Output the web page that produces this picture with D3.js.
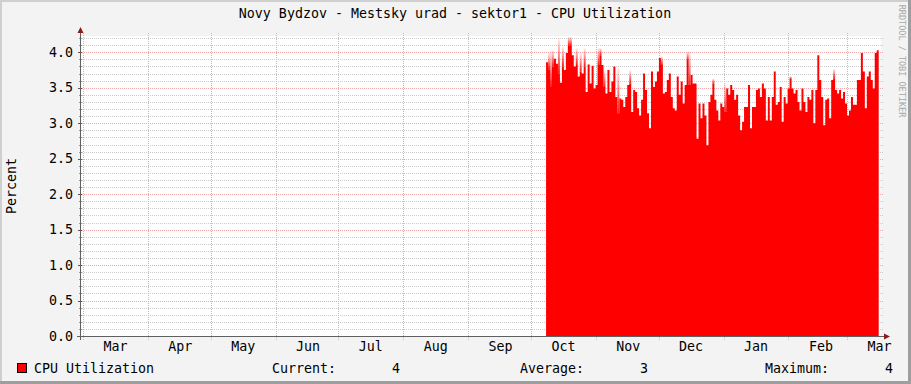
<!DOCTYPE html>
<html>
<head>
<meta charset="utf-8">
<script src="https://cdn.jsdelivr.net/npm/d3@7"></script>
<style>
    body { margin: 0; padding: 0; background: #f3f3f3; }
    svg text { font-family: "DejaVu Sans Mono", monospace; font-size: 13.3px; fill: #000; }
</style>
</head>
<body>
<div id="my_dataviz"></div>
<script>
// chart texts
var chartTitle = "Novy Bydzov - Mestsky urad - sektor1 - CPU Utilization";
var yAxisTitle = "Percent";
var seriesName = "CPU Utilization";
var yTickLabels = ["0.0", "0.5", "1.0", "1.5", "2.0", "2.5", "3.0", "3.5", "4.0"];
var monthLabels = ["Mar", "Apr", "May", "Jun", "Jul", "Aug", "Sep", "Oct", "Nov", "Dec", "Jan", "Feb", "Mar"];
var legendStats = [["Current:", "4"], ["Average:", "3"], ["Maximum:", "4"]];

// graph time window (one year back) and first sample of the series
var timeStart = new Date(Date.UTC(2010, 1, 28, 1, 0));
var timeEnd = new Date(Date.UTC(2011, 2, 17, 5, 0));
var firstSample = new Date(Date.UTC(2010, 9, 8, 5, 0));
var sampleHours = 22.7;

// CPU utilization samples (percent)
var cpuValues = [
    3.86, 3.76, 3.51, 3.80, 3.91, 3.84, 3.70, 3.57, 3.80, 3.75,
    3.99, 4.10, 4.10, 3.96, 3.80, 3.82, 3.66, 3.73, 3.70, 3.80,
    3.44, 3.82, 3.56, 3.81, 3.49, 3.54, 3.82, 3.96, 3.82, 3.51,
    3.42, 3.75, 3.44, 3.59, 3.80, 3.37, 3.14, 3.35, 3.33, 3.23,
    3.37, 3.54, 3.56, 3.16, 3.47, 3.44, 3.21, 3.11, 3.33, 3.70,
    3.47, 3.14, 2.93, 3.73, 3.51, 3.59, 3.73, 3.92, 3.82, 3.42,
    3.44, 3.61, 3.70, 3.37, 3.21, 3.18, 3.66, 3.40, 3.59, 3.28,
    3.54, 3.89, 3.54, 3.68, 3.56, 3.56, 2.78, 3.28, 3.07, 3.28,
    3.11, 2.69, 3.30, 3.40, 3.56, 3.33, 3.18, 3.04, 3.28, 3.23,
    3.16, 3.49, 3.40, 3.54, 3.47, 3.33, 3.40, 3.11, 2.90, 3.02,
    3.23, 3.23, 3.54, 2.93, 3.23, 3.23, 3.47, 3.49, 3.37, 3.56,
    3.49, 3.04, 3.37, 3.04, 3.37, 3.73, 3.26, 3.30, 3.51, 3.02,
    3.37, 3.28, 3.49, 3.63, 3.49, 3.42, 3.47, 3.30, 3.18, 3.49,
    3.30, 3.16, 3.37, 3.33, 3.47, 3.00, 3.47, 3.96, 3.61, 3.37,
    2.97, 3.33, 3.35, 3.07, 3.61, 3.63, 3.47, 3.42, 3.47, 3.35,
    3.44, 3.28, 3.11, 3.18, 3.37, 3.26, 3.26, 3.61, 3.61, 3.99,
    3.73, 3.21, 3.66, 3.73, 3.61, 3.49, 3.99, 4.03, 3.75
];

// short-lived peaks inside a sample (drawn fading above the solid area)
var peakIndex = [1, 2, 3, 6, 8, 11, 12, 15, 17, 19, 21, 26, 27, 29, 36, 42, 57, 58, 71, 72, 84, 90, 123, 145];
var peakValues = [3.99, 4.03, 4.03, 4.20, 4.08, 4.22, 4.22, 4.06, 3.99, 4.06, 3.84, 4.06, 4.06, 3.75, 3.80, 3.75, 3.92, 3.94, 4.01, 4.01, 3.63, 3.56, 3.66, 3.77];

var fullWidth = 911, fullHeight = 384;
// plot area inside the canvas (rrdtool style)
var plot = { left: 81, right: 881, top: 36, bottom: 336 };

var svg = d3.select("#my_dataviz")
    .append("svg")
    .attr("width", fullWidth)
    .attr("height", fullHeight);

// fade used for the peaks
var grad = svg.append("defs")
    .append("linearGradient")
    .attr("id", "peakFade")
    .attr("x1", 0).attr("y1", 1).attr("x2", 0).attr("y2", 0);
grad.append("stop").attr("offset", "0%").attr("stop-color", "#ff0000").attr("stop-opacity", 0.9);
grad.append("stop").attr("offset", "100%").attr("stop-color", "#ff0000").attr("stop-opacity", 0.05);

// canvas with 3d frame
svg.append("rect")
    .attr("width", fullWidth).attr("height", fullHeight)
    .attr("fill", "#f3f3f3");
svg.append("path")
    .attr("d", "M1," + fullHeight + "V1H" + fullWidth)
    .attr("fill", "none").attr("stroke", "#cfcfcf").attr("stroke-width", 2);
svg.append("path")
    .attr("d", "M0," + (fullHeight - 1.5) + "H" + (fullWidth - 1.5) + "V0")
    .attr("fill", "none").attr("stroke", "#9e9e9e").attr("stroke-width", 3);

svg.append("rect")
    .attr("x", plot.left).attr("y", plot.top)
    .attr("width", plot.right - plot.left).attr("height", plot.bottom - plot.top)
    .attr("fill", "#ffffff");

var x = d3.scaleUtc()
    .domain([timeStart, timeEnd])
    .range([plot.left, plot.right]);

var y = d3.scaleLinear()
    .domain([0, 4.23])
    .range([plot.bottom, plot.top]);

// minor horizontal grid every 0.1
var minorY = d3.range(1, 43).map(function (i) { return i / 10; }).filter(function (v) { return v <= 4.23; });
svg.append("g")
    .selectAll("line")
    .data(minorY.filter(function (v) { return Math.round(v * 10) % 5 != 0; }))
    .enter()
    .append("line")
    .attr("x1", plot.left + 1).attr("x2", plot.right + 2)
    .attr("y1", function (d) { return Math.round(y(d)) + 0.5; })
    .attr("y2", function (d) { return Math.round(y(d)) + 0.5; })
    .attr("stroke", "#cccccc")
    .attr("stroke-dasharray", "1,1");

// month grid
var months = d3.utcMonth.range(timeStart, timeEnd);
svg.append("g")
    .selectAll("line")
    .data(months)
    .enter()
    .append("line")
    .attr("x1", function (d) { return Math.round(x(d)) + 0.5; })
    .attr("x2", function (d) { return Math.round(x(d)) + 0.5; })
    .attr("y1", plot.top - 3).attr("y2", plot.bottom + 4)
    .attr("stroke", "#f2a8a8")
    .attr("stroke-dasharray", "1,1");

// major horizontal grid every 0.5
svg.append("g")
    .selectAll("line")
    .data(yTickLabels)
    .enter()
    .append("line")
    .attr("x1", plot.left + 1).attr("x2", plot.right + 2)
    .attr("y1", function (d) { return Math.round(y(+d)) + 0.5; })
    .attr("y2", function (d) { return Math.round(y(+d)) + 0.5; })
    .attr("stroke", "#f2a8a8")
    .attr("stroke-dasharray", "1,1");

// the data area
var samples = cpuValues.map(function (v, i) {
    return { t: new Date(firstSample.getTime() + i * sampleHours * 3600e3), v: v };
});
var stepPx = x(samples[1].t) - x(samples[0].t);

svg.append("path")
    .datum(samples)
    .attr("fill", "#ff0000")
    .attr("d", d3.area()
        .x(function (d) { return x(d.t); })
        .y0(y(0))
        .y1(function (d) { return y(d.v); })
        .curve(d3.curveStepAfter)
    );

// fading peaks on top of the samples
svg.append("g")
    .selectAll("rect")
    .data(peakIndex)
    .enter()
    .append("rect")
    .attr("x", function (d) { return x(samples[d].t); })
    .attr("width", stepPx)
    .attr("y", function (d, i) { return y(peakValues[i]); })
    .attr("height", function (d, i) { return y(samples[d].v) - y(peakValues[i]); })
    .attr("fill", "url(#peakFade)");

// y axis ticks
svg.append("g")
    .selectAll("line")
    .data(minorY.concat([0]))
    .enter()
    .append("line")
    .attr("x1", function (d) { return Math.round(d * 10) % 5 == 0 ? plot.left - 3 : plot.left - 2; })
    .attr("x2", plot.left + 1)
    .attr("y1", function (d) { return Math.round(y(d)) + 0.5; })
    .attr("y2", function (d) { return Math.round(y(d)) + 0.5; })
    .attr("stroke", function (d) { return Math.round(d * 10) % 5 == 0 ? "#555555" : "#999999"; });

svg.append("g")
    .selectAll("text")
    .data(yTickLabels)
    .enter()
    .append("text")
    .attr("x", 73)
    .attr("y", function (d) { return y(+d) + 4.5; })
    .attr("text-anchor", "end")
    .text(function (d) { return d; });

// axes lines and arrows
svg.append("line")
    .attr("x1", plot.left - 0.5).attr("x2", plot.left - 0.5)
    .attr("y1", plot.bottom + 4).attr("y2", plot.top - 4)
    .attr("stroke", "#606060");
svg.append("line")
    .attr("x1", plot.left - 4).attr("x2", plot.right + 4)
    .attr("y1", plot.bottom + 0.5).attr("y2", plot.bottom + 0.5)
    .attr("stroke", "#606060");
svg.append("path")
    .attr("d", "M" + (plot.left - 3.5) + "," + (plot.top - 3) + "L" + (plot.left - 0.5) + "," + (plot.top - 9) + "L" + (plot.left + 2.5) + "," + (plot.top - 3) + "Z")
    .attr("fill", "#8b1a1a");
svg.append("path")
    .attr("d", "M" + (plot.right + 3) + "," + (plot.bottom - 2.5) + "L" + (plot.right + 9) + "," + (plot.bottom + 0.5) + "L" + (plot.right + 3) + "," + (plot.bottom + 3.5) + "Z")
    .attr("fill", "#8b1a1a");

// month labels centred in the month
svg.append("g")
    .selectAll("text")
    .data(months)
    .enter()
    .append("text")
    .attr("x", function (d) { return x(new Date(d.getTime() + 15.5 * 864e5)); })
    .attr("y", 351)
    .attr("text-anchor", "middle")
    .text(function (d, i) { return monthLabels[i]; });

// titles
svg.append("text")
    .attr("x", 455).attr("y", 18)
    .attr("text-anchor", "middle")
    .text(chartTitle);

svg.append("text")
    .attr("transform", "translate(16,186) rotate(-90)")
    .attr("text-anchor", "middle")
    .text(yAxisTitle);

svg.append("text")
    .attr("transform", "translate(899,61) rotate(90)")
    .attr("text-anchor", "middle")
    .style("font-size", "8.5px")
    .style("fill", "#a8a8a8")
    .text("RRDTOOL / TOBI OETIKER");

// legend
svg.append("rect")
    .attr("x", 17.5).attr("y", 363.5)
    .attr("width", 9).attr("height", 9)
    .attr("fill", "#ff0000")
    .attr("stroke", "#000000");
svg.append("text")
    .attr("x", 34).attr("y", 372.5)
    .text(seriesName);

var statX = [272, 520, 765];
legendStats.forEach(function (s, i) {
    svg.append("text")
        .attr("x", statX[i]).attr("y", 372.5)
        .text(s[0]);
    svg.append("text")
        .attr("x", statX[i] + 128).attr("y", 372.5)
        .attr("text-anchor", "end")
        .text(s[1]);
});
</script>
</body>
</html>
